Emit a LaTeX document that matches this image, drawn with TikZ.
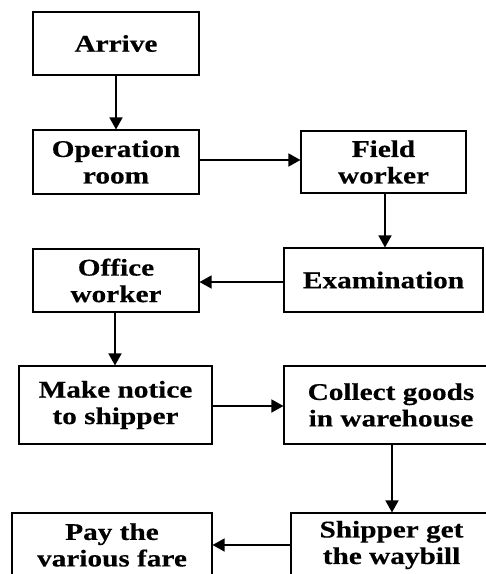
\documentclass[tikz,border=0pt]{standalone}
\usepackage{fontspec}
\newfontfamily\lab[FakeStretch=1.22,FakeBold=0.4]{Liberation Serif}
\usetikzlibrary{arrows.meta}
\tikzset{
  box/.style={draw=black, line width=1.1pt, inner sep=0pt, align=center,
    font=\lab\bfseries\fontsize{24}{26.5}\selectfont},
  arr/.style={line width=1.5pt, -{Triangle[length=12pt,width=13pt]}}
}
\begin{document}
\begin{tikzpicture}[x=1pt,y=-1pt]
\useasboundingbox (0,0) rectangle (486,574);
\node[box, minimum width=166pt, minimum height=63pt] (arrive) at (116,43.5) {Arrive};
\node[box, minimum width=166pt, minimum height=64pt] (oper) at (116,162) {Operation\\room};
\node[box, minimum width=165pt, minimum height=62pt] (field) at (383.5,162) {Field\\worker};
\node[box, minimum width=199pt, minimum height=64pt] (exam) at (383.5,280) {Examination};
\node[box, minimum width=166pt, minimum height=63pt] (office) at (116,280.5) {Office\\worker};
\node[box, minimum width=193pt, minimum height=78pt] (make) at (115.5,405) {Make notice\\to shipper};
\node[box, minimum width=214pt, minimum height=78pt] (collect) at (391,405) {Collect goods\\in warehouse};
\node[box, minimum width=201pt, minimum height=64pt] (ship) at (391.5,545) {Shipper get\\the waybill};
\node[box, minimum width=200pt, minimum height=64pt] (pay) at (112,545) {Pay the\\various fare};
\draw[arr] (arrive.south) -- (oper.north);
\draw[arr] (oper.east |- 0,160) -- (field.west |- 0,160);
\draw[arr] (field.south -| 385,0) -- (exam.north -| 385,0);
\draw[arr] (exam.west |- 0,282) -- (office.east |- 0,282);
\draw[arr] (office.south -| 115,0) -- (make.north -| 115,0);
\draw[arr] (make.east |- 0,406) -- (collect.west |- 0,406);
\draw[arr] (collect.south -| 392,0) -- (ship.north -| 392,0);
\draw[arr] (ship.west |- 0,545) -- (pay.east |- 0,545);
\end{tikzpicture}
\end{document}
